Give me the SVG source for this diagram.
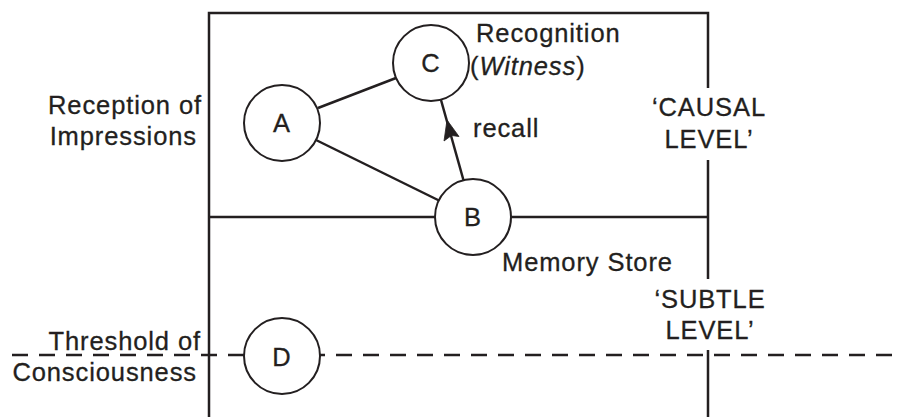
<svg xmlns="http://www.w3.org/2000/svg" width="898" height="417" viewBox="0 0 898 417">
  <style>
    .ln { stroke: #231f20; stroke-width: 2.5; fill: none; }
    .dash { stroke: #231f20; stroke-width: 2.5; fill: none; stroke-dasharray: 16 11; }
    .head { fill: #231f20; stroke: #231f20; stroke-width: 0.8; stroke-linejoin: miter; }
    .node circle { fill: #ffffff; stroke: #231f20; stroke-width: 2; }
    text { font-family: "Liberation Sans", Arial, Helvetica, sans-serif; font-size: 25.5px; letter-spacing: 0.9px; fill: #231f20; stroke: #231f20; stroke-width: 0.3; }
    .c { text-anchor: middle; }
    .r { text-anchor: end; }
  </style>

  <rect width="898" height="417" fill="#ffffff"/>

  <!-- frame and level boundaries -->
  <g id="frame">
    <path class="ln" d="M209,417 V13 H708 V88 M708,160 V279 M708,350 V417"/>
    <line class="ln" x1="209" y1="217" x2="708" y2="217"/>
    <line class="dash" x1="12" y1="355" x2="898" y2="355"/>
  </g>

  <!-- connectors -->
  <g id="connectors">
    <line class="ln" x1="318" y1="108" x2="396" y2="78"/>
    <line class="ln" x1="316" y1="140" x2="440" y2="201"/>
    <line class="ln" x1="464" y1="182" x2="441" y2="100"/>
    <!-- recall arrowhead, pointing from B towards C -->
    <polygon class="head" points="447,120 459,136.5 451.5,135.5 444,141"/>
  </g>

  <!-- nodes -->
  <g id="node-A" class="node">
    <circle cx="282" cy="123" r="38"/>
    <text class="c" x="282" y="131.5">A</text>
  </g>
  <g id="node-C" class="node">
    <circle cx="431" cy="63" r="38"/>
    <text class="c" x="431" y="72">C</text>
  </g>
  <g id="node-B" class="node">
    <circle cx="473" cy="217" r="38"/>
    <text class="c" x="473" y="226">B</text>
  </g>
  <g id="node-D" class="node">
    <circle cx="282" cy="356" r="38"/>
    <text class="c" x="282" y="365.5">D</text>
  </g>

  <!-- labels -->
  <g id="labels">
    <text x="476" y="42">Recognition</text>
    <text x="470" y="75">(<tspan font-style="italic">Witness</tspan>)</text>
    <text x="473" y="137">recall</text>
    <text class="r" x="202" y="114">Reception of</text>
    <text class="r" x="197" y="145">Impressions</text>
    <text x="502" y="271">Memory Store</text>
    <text class="c" x="709" y="116">‘CAUSAL</text>
    <text class="c" x="709" y="148">LEVEL’</text>
    <text class="c" x="710" y="308">‘SUBTLE</text>
    <text class="c" x="710" y="339">LEVEL’</text>
    <text class="r" x="201" y="350">Threshold of</text>
    <text class="r" x="197" y="381">Consciousness</text>
  </g>
</svg>
